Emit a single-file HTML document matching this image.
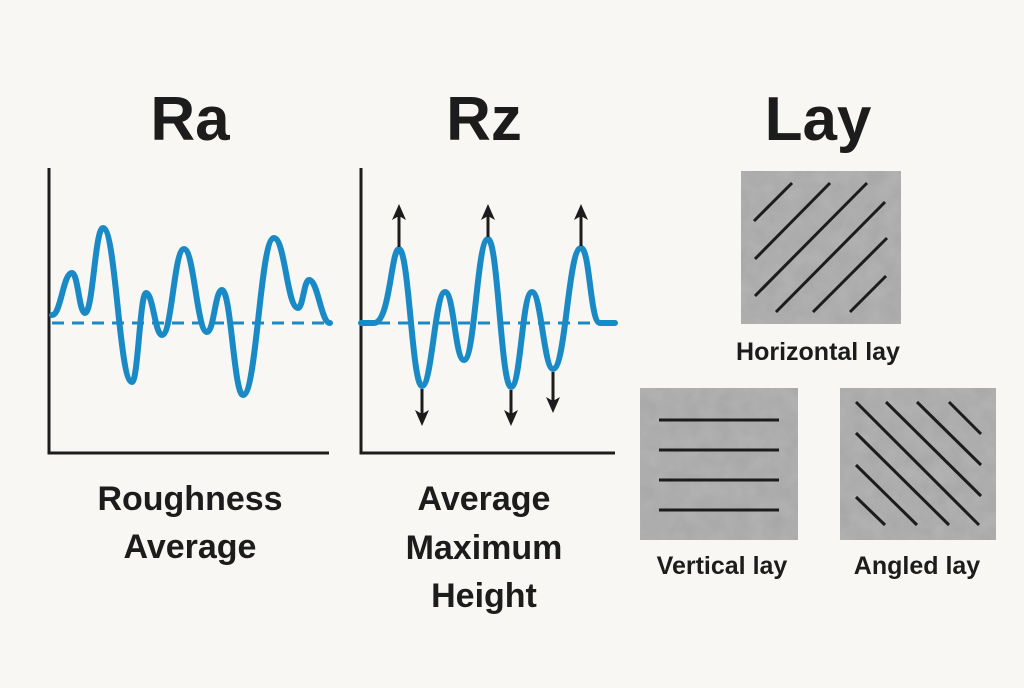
<!DOCTYPE html>
<html><head><meta charset="utf-8"><style>
html,body{margin:0;padding:0;background:#f8f7f3;}
body{width:1024px;height:683px;overflow:hidden;}
text{font-family:"Liberation Sans",sans-serif;fill:#1c1c1c;}
</style></head><body>
<svg width="1024" height="683" viewBox="0 0 1024 683" xmlns="http://www.w3.org/2000/svg">
<defs>
<filter id="tex" x="0" y="0" width="100%" height="100%">
<feTurbulence type="fractalNoise" baseFrequency="0.06" numOctaves="3" seed="3" result="n"/>
<feColorMatrix in="n" type="matrix" values="0 0 0 0 0.72  0 0 0 0 0.72  0 0 0 0 0.72  0 0 0 -0.6 0.6" result="c"/>
<feFlood flood-color="#b4b4b4" result="f"/>
<feBlend in="c" in2="f" mode="multiply" result="b"/>
<feComposite in="b" in2="SourceGraphic" operator="in"/>
</filter>
<marker id="ah" markerWidth="16" markerHeight="16" refX="8" refY="8" orient="auto" markerUnits="userSpaceOnUse">
<path d="M0,1 L16,8 L0,15 L4,8 Z" fill="#1c1c1c"/>
</marker>
</defs>
<rect width="1024" height="683" fill="#f8f7f3"/>

<g font-size="62" font-weight="bold" text-anchor="middle">
<text x="190" y="140">Ra</text>
<text x="484" y="140">Rz</text>
<text x="818" y="140">Lay</text>
</g>

<path d="M49,168 L49,453 L329,453" fill="none" stroke="#1c1c1c" stroke-width="3"/>
<line x1="52" y1="323" x2="330" y2="323" stroke="#1a8ac6" stroke-width="3" stroke-dasharray="12 8"/>
<path d="M52,315 C61,315 63,273 72,273 C78,273 79,313 85,313 C93,313 95,228 103,228 C116,228 119,382 132,382 C138,382 140,293 146,293 C153,293 155,335 162,335 C172,335 174,249 184,249 C194,249 197,332 207,332 C214,332 215,290 222,290 C231,290 234,395 243,395 C257,395 260,238 274,238 C285,238 287,308 298,308 C303,308 304,280 309,280 C318,280 321,323 330,323" fill="none" stroke="#1a8ac6" stroke-width="6" stroke-linecap="round" stroke-linejoin="round"/>

<path d="M361,168 L361,453 L615,453" fill="none" stroke="#1c1c1c" stroke-width="3"/>
<line x1="378" y1="323" x2="615" y2="323" stroke="#1a8ac6" stroke-width="3" stroke-dasharray="12 8"/>
<path d="M361,323 L374,323 C390,323 391,249 399,249 C409,249 412,386 422,386 C432,386 435,292 445,292 C454,292 455,360 464,360 C475,360 477,239 488,239 C498,239 501,387 511,387 C521,387 522,292 532,292 C541,292 544,369 553,369 C566,369 568,248 581,248 C590,248 590,323 600,323 L615,323" fill="none" stroke="#1a8ac6" stroke-width="6" stroke-linecap="round" stroke-linejoin="round"/>
<g stroke="#1c1c1c" stroke-width="3" marker-end="url(#ah)">
<line x1="399" y1="247" x2="399" y2="212"/>
<line x1="488" y1="237" x2="488" y2="212"/>
<line x1="581" y1="246" x2="581" y2="212"/>
<line x1="422" y1="389" x2="422" y2="418"/>
<line x1="511" y1="390" x2="511" y2="418"/>
<line x1="553" y1="372" x2="553" y2="405"/>
</g>

<g font-size="34" font-weight="bold" text-anchor="middle">
<text x="190" y="510">Roughness</text>
<text x="190" y="558">Average</text>
<text x="484" y="510">Average</text>
<text x="484" y="559">Maximum</text>
<text x="484" y="607">Height</text>
</g>

<rect x="741" y="171" width="160" height="153" fill="#aaa" filter="url(#tex)"/>
<rect x="640" y="388" width="158" height="152" fill="#aaa" filter="url(#tex)"/>
<rect x="840" y="388" width="156" height="152" fill="#aaa" filter="url(#tex)"/>
<g stroke="#1c1c1c" stroke-width="3">
<line x1="754" y1="221" x2="792" y2="183"/>
<line x1="755" y1="259" x2="830" y2="183"/>
<line x1="755" y1="296" x2="867" y2="183"/>
<line x1="776" y1="312" x2="885" y2="202"/>
<line x1="813" y1="312" x2="887" y2="238"/>
<line x1="850" y1="312" x2="886" y2="276"/>
<line x1="659" y1="420" x2="779" y2="420"/>
<line x1="659" y1="450" x2="779" y2="450"/>
<line x1="659" y1="480" x2="779" y2="480"/>
<line x1="659" y1="510" x2="779" y2="510"/>
<line x1="856" y1="402" x2="979" y2="525"/>
<line x1="886" y1="402" x2="981" y2="496"/>
<line x1="917" y1="402" x2="981" y2="465"/>
<line x1="949" y1="402" x2="981" y2="434"/>
<line x1="856" y1="433" x2="949" y2="525"/>
<line x1="856" y1="465" x2="917" y2="525"/>
<line x1="856" y1="497" x2="885" y2="525"/>
</g>
<g font-size="25" font-weight="bold" text-anchor="middle">
<text x="818" y="360">Horizontal lay</text>
<text x="722" y="574">Vertical lay</text>
<text x="917" y="574">Angled lay</text>
</g>
</svg>
</body></html>
